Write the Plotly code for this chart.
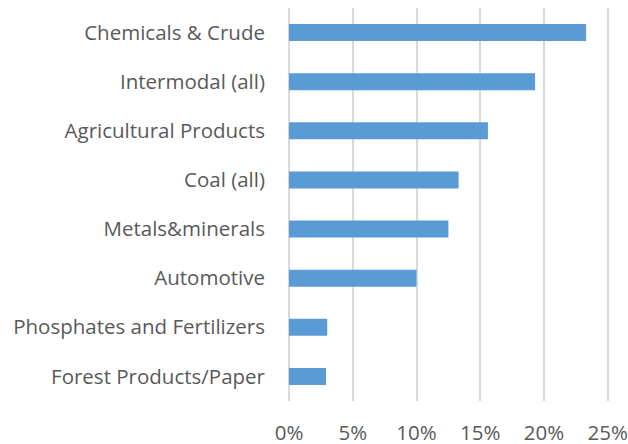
import plotly.graph_objects as go

# Share of carloads by commodity group (percent)
categories = [
    "Chemicals & Crude",
    "Intermodal (all)",
    "Agricultural Products",
    "Coal (all)",
    "Metals&minerals",
    "Automotive",
    "Phosphates and Fertilizers",
    "Forest Products/Paper",
]
shares = [23.3, 19.3, 15.6, 13.3, 12.5, 10.0, 3.0, 2.9]
x_ticks = [0, 5, 10, 15, 20, 25]
x_tick_labels = ["0%", "5%", "10%", "15%", "20%", "25%"]

font_family = "Open Sans, sans-serif"
text_color = "#595959"
font_size = 20.5

fig = go.Figure(
    go.Bar(
        x=shares,
        y=categories,
        orientation="h",
        marker=dict(color="#5B9BD5", line=dict(width=0)),
        hoverinfo="x+y",
    )
)

fig.update_layout(
    width=628,
    height=444,
    margin=dict(l=289, r=17, t=8, b=43),
    paper_bgcolor="white",
    plot_bgcolor="white",
    bargap=0.655,
    showlegend=False,
    font=dict(family=font_family, color=text_color, size=font_size),
)

fig.update_xaxes(
    range=[0, 25.25],
    tickvals=x_ticks,
    ticktext=x_tick_labels,
    showgrid=True,
    gridcolor="#d9d9d9",
    gridwidth=2,
    zeroline=True,
    zerolinecolor="#d9d9d9",
    zerolinewidth=2,
    showline=False,
    ticks="",
    automargin=False,
    ticklabeloverflow="allow",
    ticklabelstandoff=17,
    tickfont=dict(size=font_size, color=text_color),
)

fig.update_yaxes(
    categoryorder="array",
    categoryarray=categories[::-1],
    showgrid=False,
    showline=False,
    ticks="",
    automargin=False,
    ticklabelstandoff=23,
    tickfont=dict(size=font_size, color=text_color),
)

fig.write_html("out.html")
